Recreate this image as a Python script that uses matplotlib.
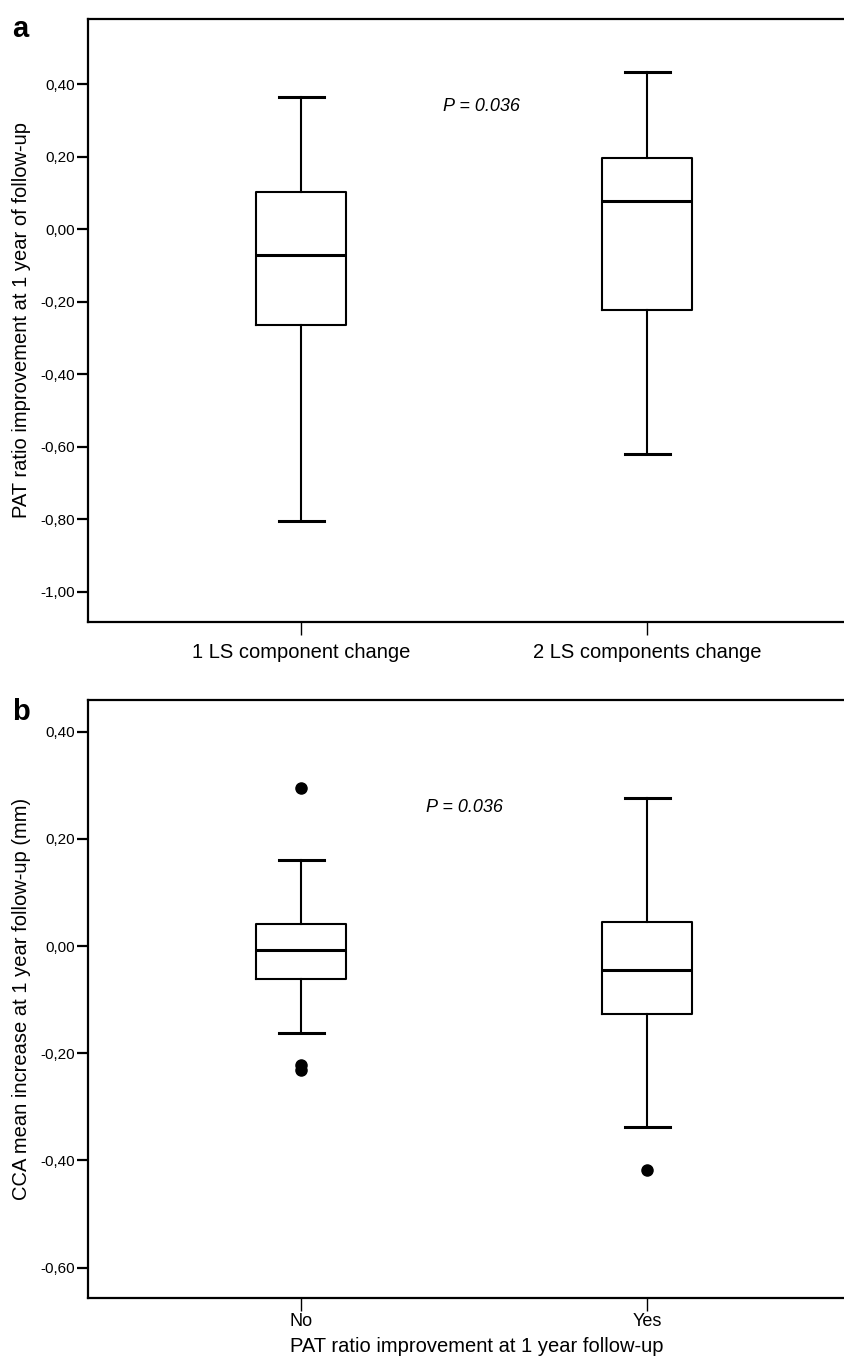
import matplotlib
matplotlib.use('Agg')
import matplotlib.pyplot as plt
from matplotlib.ticker import FixedLocator, FuncFormatter

plt.rcParams['font.family'] = ['Liberation Sans', 'DejaVu Sans']

# panel a: PAT ratio change by number of lifestyle components changed
groups_a = ["1 LS component change", "2 LS components change"]
a_whishi = [0.365, 0.435]
a_q3 = [0.103, 0.196]
a_med = [-0.071, 0.079]
a_q1 = [-0.265, -0.224]
a_whislo = [-0.805, -0.620]
a_fliers = [[], []]
a_yticks = [0.40, 0.20, 0.00, -0.20, -0.40, -0.60, -0.80, -1.00]

# panel b: CCA change by PAT ratio improvement
groups_b = ["No", "Yes"]
b_whishi = [0.161, 0.277]
b_q3 = [0.041, 0.045]
b_med = [-0.007, -0.045]
b_q1 = [-0.061, -0.127]
b_whislo = [-0.163, -0.338]
b_fliers = [[0.294, -0.222, -0.232], [-0.418]]
b_yticks = [0.40, 0.20, 0.00, -0.20, -0.40, -0.60]

p_text = "P = 0.036"

W, H = 844, 1362
fig = plt.figure(figsize=(W / 100, H / 100), dpi=100)


def px_axes(left, top, right, bottom):
    return fig.add_axes([left / W, 1 - bottom / H, (right - left) / W, (bottom - top) / H])


def comma(v, pos):
    return f"{v:.2f}".replace(".", ",")


def draw_panel(ax, labels, whishi, q3, med, q1, whislo, fliers, yticks, ylim, xsize, xpad):
    stats = []
    for i in range(len(labels)):
        stats.append(dict(label=labels[i], whishi=whishi[i], q3=q3[i], med=med[i],
                          q1=q1[i], whislo=whislo[i], fliers=fliers[i]))
    ax.bxp(stats, positions=[1, 2], widths=0.26, capwidths=0.13, showfliers=True,
           boxprops=dict(color='black', linewidth=1.5),
           whiskerprops=dict(color='black', linewidth=1.5),
           capprops=dict(color='black', linewidth=2.2),
           medianprops=dict(color='black', linewidth=2.2),
           flierprops=dict(marker='o', markerfacecolor='black', markeredgecolor='black',
                           markersize=8))
    ax.set_xlim(0.384, 2.633)
    ax.set_ylim(*ylim)
    ax.yaxis.set_major_locator(FixedLocator(yticks))
    ax.yaxis.set_major_formatter(FuncFormatter(comma))
    ax.tick_params(axis='y', length=8, width=1.6, pad=1.5, labelsize=11)
    ax.tick_params(axis='x', length=9, width=1.0, pad=xpad, labelsize=xsize)
    for s in ax.spines.values():
        s.set_linewidth(1.6)
        s.set_color('black')


ax1 = px_axes(88, 19, 866, 622)
draw_panel(ax1, groups_a, a_whishi, a_q3, a_med, a_q1, a_whislo, a_fliers,
           a_yticks, (-1.0836, 0.580), 14.5, 6)
ax1.set_ylabel("PAT ratio improvement at 1 year of follow-up", fontsize=14.5)
ax1.yaxis.label.set_va('center')
ax1.yaxis.set_label_coords((22 - 88) / 778, 0.5)
ax1.text(1.522, 0.339, p_text, fontsize=13, style='italic', ha='center', va='center')

ax2 = px_axes(88, 700, 866, 1298)
draw_panel(ax2, groups_b, b_whishi, b_q3, b_med, b_q1, b_whislo, b_fliers,
           b_yticks, (-0.6565, 0.459), 13, 2)
ax2.set_ylabel("CCA mean increase at 1 year follow-up (mm)", fontsize=14.5)
ax2.yaxis.label.set_va('center')
ax2.yaxis.set_label_coords((22 - 88) / 778, 0.5)
ax2.set_xlabel("PAT ratio improvement at 1 year follow-up", fontsize=14.5)
ax2.xaxis.label.set_va('center')
ax2.xaxis.set_label_coords(0.5, -(1346 - 1298) / 598)
ax2.text(1.471, 0.258, p_text, fontsize=13, style='italic', ha='center', va='center')

fig.text(12 / W, 1 - 29 / H, "a", fontsize=21, fontweight='bold', ha='left', va='center')
fig.text(12 / W, 1 - 712 / H, "b", fontsize=21, fontweight='bold', ha='left', va='center')

fig.savefig('out.png', dpi=100, facecolor='white')
